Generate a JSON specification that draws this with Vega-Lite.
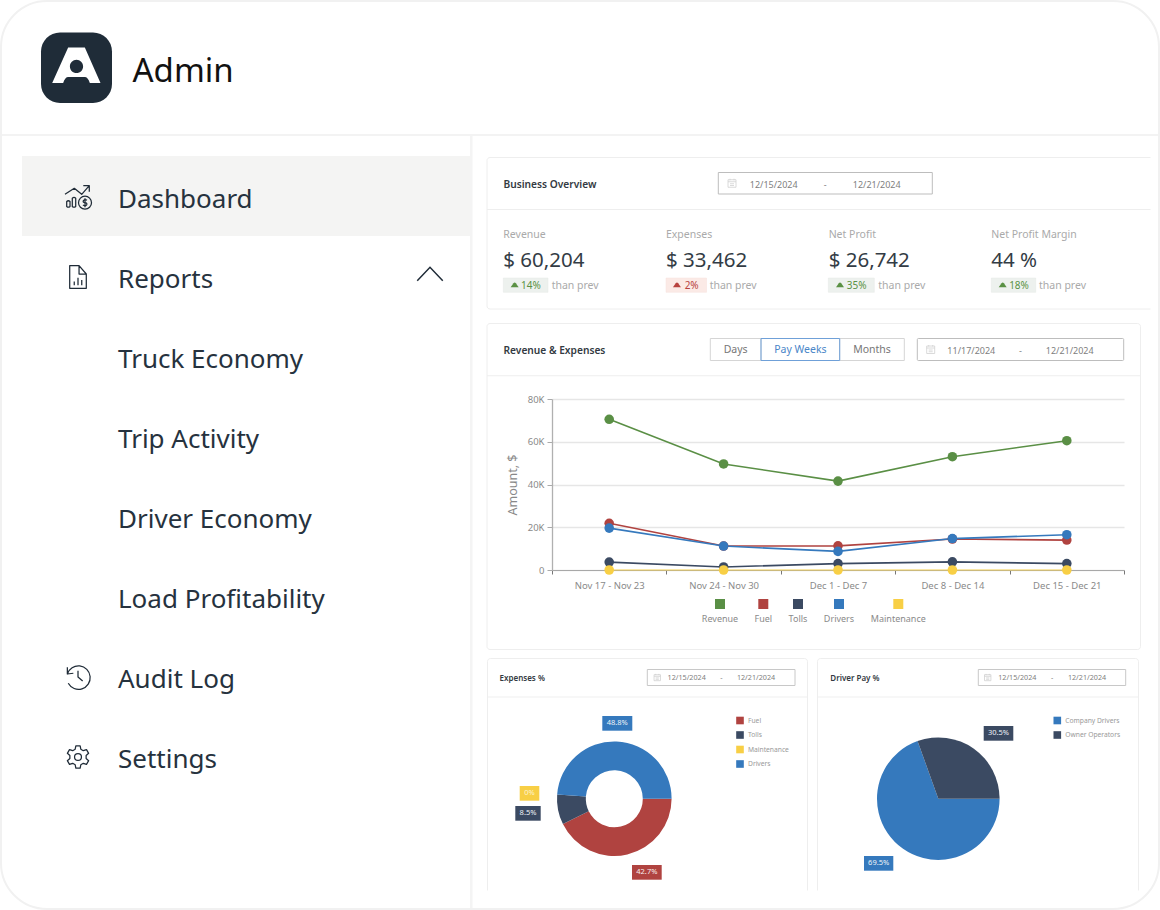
{
"$schema":"https://vega.github.io/schema/vega-lite/v6.json",
"width":1160,"height":910,"padding":0,"autosize":{"type":"none"},"background":"#ffffff",
"config":{"font":"Noto Sans","view":{"stroke":null},"scale":{"pointPadding":0,"bandPaddingInner":0,"bandPaddingOuter":0}},
"resolve":{"scale":{"x":"independent","y":"independent","theta":"independent","color":"independent","shape":"independent"}},
"datasets":{
"menu":[{"item":"Dashboard"},{"item":"Reports"},{"item":"Truck Economy"},{"item":"Trip Activity"},{"item":"Driver Economy"},{"item":"Load Profitability"},{"item":"Audit Log"},{"item":"Settings"}],
"kpi":[{"metric":"Revenue","amount":"$ 60,204"},{"metric":"Expenses","amount":"$ 33,462"},{"metric":"Net Profit","amount":"$ 26,742"},{"metric":"Net Profit Margin","amount":"44 %"}],
"amounts":[
{"period":"Nov 17 - Nov 23","series":"Revenue","amount":70500},{"period":"Nov 24 - Nov 30","series":"Revenue","amount":49600},{"period":"Dec 1 - Dec 7","series":"Revenue","amount":41600},{"period":"Dec 8 - Dec 14","series":"Revenue","amount":53000},{"period":"Dec 15 - Dec 21","series":"Revenue","amount":60500},
{"period":"Nov 17 - Nov 23","series":"Fuel","amount":21850},{"period":"Nov 24 - Nov 30","series":"Fuel","amount":11200},{"period":"Dec 1 - Dec 7","series":"Fuel","amount":11300},{"period":"Dec 8 - Dec 14","series":"Fuel","amount":14500},{"period":"Dec 15 - Dec 21","series":"Fuel","amount":14000},
{"period":"Nov 17 - Nov 23","series":"Tolls","amount":3700},{"period":"Nov 24 - Nov 30","series":"Tolls","amount":1400},{"period":"Dec 1 - Dec 7","series":"Tolls","amount":3000},{"period":"Dec 8 - Dec 14","series":"Tolls","amount":3800},{"period":"Dec 15 - Dec 21","series":"Tolls","amount":3000},
{"period":"Nov 17 - Nov 23","series":"Drivers","amount":19600},{"period":"Nov 24 - Nov 30","series":"Drivers","amount":11200},{"period":"Dec 1 - Dec 7","series":"Drivers","amount":8700},{"period":"Dec 8 - Dec 14","series":"Drivers","amount":14700},{"period":"Dec 15 - Dec 21","series":"Drivers","amount":16500},
{"period":"Nov 17 - Nov 23","series":"Maintenance","amount":0},{"period":"Nov 24 - Nov 30","series":"Maintenance","amount":0},{"period":"Dec 1 - Dec 7","series":"Maintenance","amount":0},{"period":"Dec 8 - Dec 14","series":"Maintenance","amount":0},{"period":"Dec 15 - Dec 21","series":"Maintenance","amount":0}
],
"expenses":[{"chart":"Expenses %","name":"Fuel","share":42.7,"seq":1},{"chart":"Expenses %","name":"Tolls","share":8.5,"seq":2},{"chart":"Expenses %","name":"Maintenance","share":0,"seq":3},{"chart":"Expenses %","name":"Drivers","share":48.8,"seq":4}],
"driverPay":[{"chart":"Driver Pay %","name":"Company Drivers","share":69.5,"seq":1},{"chart":"Driver Pay %","name":"Owner Operators","share":30.5,"seq":2}]
},
"layer":[
{"data":{"values":[{"part":"header rule"}]},"mark":{"type":"rect","fill":"#f3f3f3"},"encoding":{"x":{"field":"part","type":"nominal","axis":null,"scale":{"type":"band","range":[1,1159]}},"y":{"field":"part","type":"nominal","axis":null,"scale":{"type":"band","range":[134,136]}}}},
{"data":{"values":[{"part":"sidebar rule"}]},"mark":{"type":"rect","fill":"#f4f4f4"},"encoding":{"x":{"field":"part","type":"nominal","axis":null,"scale":{"type":"band","range":[470,472.5]}},"y":{"field":"part","type":"nominal","axis":null,"scale":{"type":"band","range":[136,908]}}}},
{"data":{"values":[{"name":"Logo"}]},"encoding":{"x":{"field":"name","type":"nominal","axis":null,"scale":{"type":"band","range":[41,112]}},"y":{"field":"name","type":"nominal","axis":null,"scale":{"type":"band","range":[32.5,103]}}},"layer":[
 {"mark":{"type":"rect","fill":"#1f2c38","cornerRadius":19}},
 {"mark":{"type":"point","filled":true,"fill":"#ffffff","stroke":null,"opacity":1,"size":900,"yOffset":-1.3,"shape":"M-.556,-1.267 L.556,-1.267 L1.6,1.11 L.89,1.11 Q.75,.711 .556,.711 L-.556,.711 Q-.75,.711 -.89,1.11 L-1.62,1.11 Z M.44,0 A.44,.44 0 1 0 -.44,0 A.44,.44 0 1 0 .44,0 Z"}}
]},
{"data":{"values":[{"name":"Admin"}]},"mark":{"type":"text","align":"left","baseline":"middle","fontSize":33,"color":"#111111"},"encoding":{"text":{"field":"name"},"x":{"field":"name","type":"nominal","axis":null,"scale":{"type":"point","range":[132.5,132.5]}},"y":{"field":"name","type":"nominal","axis":null,"scale":{"type":"point","range":[71.5,71.5]}}}},
{"data":{"values":[{"item":"Dashboard"}]},"mark":{"type":"rect","fill":"#f4f4f3"},"encoding":{"x":{"field":"item","type":"nominal","axis":null,"scale":{"type":"band","range":[22,470]}},"y":{"field":"item","type":"nominal","axis":null,"scale":{"type":"band","range":[156,236]}}}},
{"data":{"name":"menu"},"mark":{"type":"text","align":"left","baseline":"middle","fontSize":26,"color":"#26323e"},"encoding":{"text":{"field":"item"},"x":{"field":"item","type":"nominal","axis":null,"sort":null,"scale":{"type":"point","range":[118,118]}},"y":{"field":"item","type":"nominal","axis":null,"sort":null,"scale":{"type":"point","range":[199.7,759.7]}}}},
{"data":{"name":"menu"},"transform":[{"filter":"indexof(['Dashboard','Reports','Audit Log','Settings'],datum.item)>=0"}],"mark":{"type":"point","filled":false,"stroke":"#1f2b37","strokeWidth":1.25,"opacity":1,"size":900,"strokeJoin":"round"},"encoding":{
 "x":{"field":"item","type":"nominal","axis":null,"sort":null,"scale":{"type":"point","range":[78,78]}},
 "y":{"field":"item","type":"nominal","axis":null,"scale":{"type":"point","domain":["Dashboard","Reports","Truck Economy","Trip Activity","Driver Economy","Load Profitability","Audit Log","Settings"],"range":[197,757]}},
 "shape":{"field":"item","type":"nominal","legend":null,"scale":{"domain":["Dashboard","Reports","Audit Log","Settings"],"range":[
  "M-.867,-.18 L-.247,-.58 L.247,-.18 L.753,-.753 M.353,-.753 L.753,-.753 L.753,-.353 M-.753,.3 Q-.643,.2 -.533,.3 L-.533,.63 Q-.643,.73 -.753,.63 Z M-.38,.08 Q-.265,-.02 -.153,.08 L-.153,.63 Q-.265,.73 -.38,.63 Z M.9,.38 A.433,.433 0 1 1 .034,.38 A.433,.433 0 1 1 .9,.38 Z M.6,.22 Q.467,.12 .36,.24 Q.3,.36 .467,.38 Q.63,.4 .58,.52 Q.47,.64 .33,.54 M.467,.08 L.467,.68",
  "M-.553,-.753 L.07,-.753 L.553,-.2 L.553,.753 L-.553,.753 Z M.07,-.753 L.07,-.2 L.553,-.2 M-.25,.55 L-.25,.3 M0,.55 L0,.05 M.25,.55 L.25,.2",
  "M-.71,-.65 L-.71,-.2 L-.31,-.25 M-.71,-.2 A.78,.78 0 1 1 -.65,.42 M0,-.42 L0,0 L.31,.27",
  "M-.143,-.736 L.143,-.736 L.188,-.517 L.354,-.421 L.566,-.492 L.709,-.244 L.542,-.096 L.542,.096 L.709,.244 L.566,.492 L.354,.421 L.188,.517 L.143,.736 L-.143,.736 L-.188,.517 L-.354,.421 L-.566,.492 L-.709,.244 L-.542,.096 L-.542,-.096 L-.709,-.244 L-.566,-.492 L-.354,-.421 L-.188,-.517 Z M.23,0 A.23,.23 0 1 1 -.23,0 A.23,.23 0 1 1 .23,0 Z"
 ]}}}},
{"data":{"values":[{"item":"Reports"}]},"mark":{"type":"point","filled":false,"stroke":"#1f2b37","strokeWidth":1.5,"opacity":1,"size":900,"shape":"M-.85,.45 L0,-.45 L.85,.45"},"encoding":{"x":{"field":"item","type":"nominal","axis":null,"scale":{"type":"point","range":[430,430]}},"y":{"field":"item","type":"nominal","axis":null,"scale":{"type":"point","range":[274,274]}}}},

{"data":{"values":[{"panel":"Business Overview"}]},"mark":{"type":"rect","filled":false,"stroke":"#eeeeee","cornerRadius":3},"encoding":{"x":{"field":"panel","type":"nominal","axis":null,"scale":{"type":"band","range":[487,1158]}},"y":{"field":"panel","type":"nominal","axis":null,"scale":{"type":"band","range":[157.5,309]}}}},
{"data":{"values":[{"panel":"Business Overview"}]},"mark":{"type":"rect","fill":"#ffffff"},"encoding":{"x":{"field":"panel","type":"nominal","axis":null,"scale":{"type":"band","range":[1150.5,1158]}},"y":{"field":"panel","type":"nominal","axis":null,"scale":{"type":"band","range":[150,315]}}}},
{"data":{"values":[{"panel":"Business Overview"}]},"mark":{"type":"rect","fill":"#eeeeee"},"encoding":{"x":{"field":"panel","type":"nominal","axis":null,"scale":{"type":"band","range":[487,1150.5]}},"y":{"field":"panel","type":"nominal","axis":null,"scale":{"type":"band","range":[209,210]}}}},
{"data":{"values":[{"panel":"Revenue & Expenses"}]},"mark":{"type":"rect","filled":false,"stroke":"#eeeeee","cornerRadius":3},"encoding":{"x":{"field":"panel","type":"nominal","axis":null,"scale":{"type":"band","range":[487,1140.5]}},"y":{"field":"panel","type":"nominal","axis":null,"scale":{"type":"band","range":[323.5,649.5]}}}},
{"data":{"values":[{"panel":"Revenue & Expenses"}]},"mark":{"type":"rect","fill":"#eeeeee"},"encoding":{"x":{"field":"panel","type":"nominal","axis":null,"scale":{"type":"band","range":[487,1140.5]}},"y":{"field":"panel","type":"nominal","axis":null,"scale":{"type":"band","range":[375.2,376.2]}}}},
{"data":{"values":[{"panel":"Expenses %"}]},"mark":{"type":"rect","filled":false,"stroke":"#eeeeee","cornerRadius":3},"encoding":{"x":{"field":"panel","type":"nominal","axis":null,"scale":{"type":"band","range":[487.5,807.5]}},"y":{"field":"panel","type":"nominal","axis":null,"scale":{"type":"band","range":[658.5,900]}}}},
{"data":{"values":[{"panel":"Expenses %"}]},"mark":{"type":"rect","fill":"#f0f0f0"},"encoding":{"x":{"field":"panel","type":"nominal","axis":null,"scale":{"type":"band","range":[487.5,807.5]}},"y":{"field":"panel","type":"nominal","axis":null,"scale":{"type":"band","range":[696.5,697.5]}}}},
{"data":{"values":[{"panel":"Driver Pay %"}]},"mark":{"type":"rect","filled":false,"stroke":"#eeeeee","cornerRadius":3},"encoding":{"x":{"field":"panel","type":"nominal","axis":null,"scale":{"type":"band","range":[817.5,1138.5]}},"y":{"field":"panel","type":"nominal","axis":null,"scale":{"type":"band","range":[658.5,900]}}}},
{"data":{"values":[{"panel":"Driver Pay %"}]},"mark":{"type":"rect","fill":"#f0f0f0"},"encoding":{"x":{"field":"panel","type":"nominal","axis":null,"scale":{"type":"band","range":[817.5,1138.5]}},"y":{"field":"panel","type":"nominal","axis":null,"scale":{"type":"band","range":[696.5,697.5]}}}},
{"data":{"values":[{"panel":"bottom edge"}]},"mark":{"type":"rect","fill":"#ffffff"},"encoding":{"x":{"field":"panel","type":"nominal","axis":null,"scale":{"type":"band","range":[480,1150]}},"y":{"field":"panel","type":"nominal","axis":null,"scale":{"type":"band","range":[890.5,906]}}}},

{"data":{"values":[{"title":"Business Overview"},{"title":"Revenue & Expenses"}]},"mark":{"type":"text","align":"left","baseline":"middle","fontSize":10.2,"fontWeight":600,"color":"#333a42"},"encoding":{"text":{"field":"title"},"x":{"field":"title","type":"nominal","axis":null,"scale":{"type":"point","range":[503.5,503.5]}},"y":{"field":"title","type":"nominal","axis":null,"scale":{"type":"point","domain":["Business Overview","Revenue & Expenses"],"range":[184.6,350.6]}}}},
{"data":{"values":[{"title":"Expenses %"},{"title":"Driver Pay %"}]},"mark":{"type":"text","align":"left","baseline":"middle","fontSize":8,"fontWeight":600,"color":"#333a42"},"encoding":{"text":{"field":"title"},"x":{"field":"title","type":"nominal","axis":null,"scale":{"type":"point","domain":["Expenses %","Driver Pay %"],"range":[499.5,830.3]}},"y":{"field":"title","type":"nominal","axis":null,"scale":{"type":"point","range":[678.6,678.6]}}}},

{"data":{"values":[{"picker":"Business Overview"}]},"encoding":{"x":{"field":"picker","type":"nominal","axis":null,"scale":{"type":"band","range":[718.3,932.3]}},"y":{"field":"picker","type":"nominal","axis":null,"scale":{"type":"band","range":[172.5,194]}}},"layer":[
 {"mark":{"type":"rect","filled":false,"stroke":"#bdbdbd"}},
 {"mark":{"type":"point","filled":false,"stroke":"#d0d0d0","opacity":1,"strokeWidth":0.8,"size":100,"xOffset":-93.3,"shape":"M-.8,-.7 L.8,-.7 L.8,.8 L-.8,.8 Z M-.8,-.3 L.8,-.3 M-.4,-.9 L-.4,-.6 M.4,-.9 L.4,-.6 M-.4,.1 L.4,.1 M-.4,.45 L.4,.45"}}
]},
{"data":{"values":[{"part":"from","label":"12/15/2024"},{"part":"sep","label":"-"},{"part":"to","label":"12/21/2024"}]},"mark":{"type":"text","baseline":"middle","fontSize":9,"color":"#808080"},"encoding":{"text":{"field":"label"},"x":{"field":"part","type":"nominal","axis":null,"scale":{"type":"point","domain":["from","sep","to"],"range":[773.7,876.7]}},"y":{"field":"label","type":"nominal","axis":null,"scale":{"type":"point","range":[184.5,184.5]}}}},
{"data":{"values":[{"picker":"Revenue & Expenses"}]},"encoding":{"x":{"field":"picker","type":"nominal","axis":null,"scale":{"type":"band","range":[917.3,1123.7]}},"y":{"field":"picker","type":"nominal","axis":null,"scale":{"type":"band","range":[338.5,360.5]}}},"layer":[
 {"mark":{"type":"rect","filled":false,"stroke":"#bdbdbd","cornerRadius":1}},
 {"mark":{"type":"point","filled":false,"stroke":"#d0d0d0","opacity":1,"strokeWidth":0.8,"size":100,"xOffset":-89.8,"shape":"M-.8,-.7 L.8,-.7 L.8,.8 L-.8,.8 Z M-.8,-.3 L.8,-.3 M-.4,-.9 L-.4,-.6 M.4,-.9 L.4,-.6 M-.4,.1 L.4,.1 M-.4,.45 L.4,.45"}}
]},
{"data":{"values":[{"part":"from","label":"11/17/2024"},{"part":"sep","label":"-"},{"part":"to","label":"12/21/2024"}]},"mark":{"type":"text","baseline":"middle","fontSize":9,"color":"#808080"},"encoding":{"text":{"field":"label"},"x":{"field":"part","type":"nominal","axis":null,"scale":{"type":"point","domain":["from","sep","to"],"range":[971.3,1069.7]}},"y":{"field":"label","type":"nominal","axis":null,"scale":{"type":"point","range":[350.5,350.5]}}}},
{"data":{"values":[{"picker":"Expenses %"}]},"encoding":{"x":{"field":"picker","type":"nominal","axis":null,"scale":{"type":"band","range":[647.3,795]}},"y":{"field":"picker","type":"nominal","axis":null,"scale":{"type":"band","range":[669.5,685.5]}}},"layer":[
 {"mark":{"type":"rect","filled":false,"stroke":"#c8c8c8"}},
 {"mark":{"type":"point","filled":false,"stroke":"#d0d0d0","opacity":1,"strokeWidth":0.8,"size":64,"xOffset":-63.9,"shape":"M-.8,-.7 L.8,-.7 L.8,.8 L-.8,.8 Z M-.8,-.3 L.8,-.3 M-.4,-.9 L-.4,-.6 M.4,-.9 L.4,-.6 M-.4,.1 L.4,.1 M-.4,.45 L.4,.45"}}
]},
{"data":{"values":[{"part":"from","label":"12/15/2024"},{"part":"sep","label":"-"},{"part":"to","label":"12/21/2024"}]},"mark":{"type":"text","baseline":"middle","fontSize":7.2,"color":"#808080"},"encoding":{"text":{"field":"label"},"x":{"field":"part","type":"nominal","axis":null,"scale":{"type":"point","domain":["from","sep","to"],"range":[686.7,756]}},"y":{"field":"label","type":"nominal","axis":null,"scale":{"type":"point","range":[678.4,678.4]}}}},
{"data":{"values":[{"picker":"Driver Pay %"}]},"encoding":{"x":{"field":"picker","type":"nominal","axis":null,"scale":{"type":"band","range":[978.3,1125.7]}},"y":{"field":"picker","type":"nominal","axis":null,"scale":{"type":"band","range":[669.5,685.5]}}},"layer":[
 {"mark":{"type":"rect","filled":false,"stroke":"#c8c8c8"}},
 {"mark":{"type":"point","filled":false,"stroke":"#d0d0d0","opacity":1,"strokeWidth":0.8,"size":64,"xOffset":-64.3,"shape":"M-.8,-.7 L.8,-.7 L.8,.8 L-.8,.8 Z M-.8,-.3 L.8,-.3 M-.4,-.9 L-.4,-.6 M.4,-.9 L.4,-.6 M-.4,.1 L.4,.1 M-.4,.45 L.4,.45"}}
]},
{"data":{"values":[{"part":"from","label":"12/15/2024"},{"part":"sep","label":"-"},{"part":"to","label":"12/21/2024"}]},"mark":{"type":"text","baseline":"middle","fontSize":7.2,"color":"#808080"},"encoding":{"text":{"field":"label"},"x":{"field":"part","type":"nominal","axis":null,"scale":{"type":"point","domain":["from","sep","to"],"range":[1017.3,1087]}},"y":{"field":"label","type":"nominal","axis":null,"scale":{"type":"point","range":[678.4,678.4]}}}},

{"data":{"name":"kpi"},"encoding":{"x":{"field":"metric","type":"nominal","axis":null,"scale":{"type":"point","domain":["Revenue","Expenses","Net Profit","Net Profit Margin"],"range":[503.3,991.3]}},"y":{"datum":"label","type":"nominal","axis":null,"scale":{"type":"point","domain":["label","amount"],"range":[234.8,260.5]}}},"layer":[
 {"mark":{"type":"text","align":"left","baseline":"middle","fontSize":10.5,"color":"#aaaaaa"},"encoding":{"text":{"field":"metric"}}},
 {"mark":{"type":"text","align":"left","baseline":"middle","fontSize":20.5,"color":"#333c45"},"encoding":{"text":{"field":"amount"},"y":{"datum":"amount","type":"nominal","axis":null}}}
]},
{"data":{"values":[{"metric":"Revenue","change":"14%"}]},"encoding":{"x":{"field":"metric","type":"nominal","axis":null,"scale":{"type":"band","range":[503.3,548]}},"y":{"field":"metric","type":"nominal","axis":null,"scale":{"type":"band","range":[278,292.3]}}},"layer":[
 {"mark":{"type":"rect","fill":"#edf1ee","stroke":"#e4e9e5","strokeWidth":0.5}},
 {"mark":{"type":"point","filled":true,"fill":"#5a9144","stroke":null,"opacity":1,"size":64,"xOffset":-11,"shape":"M-1,.5 L-.3,-.5 Q0,-.8 .3,-.5 L1,.5 Z"}},
 {"mark":{"type":"text","baseline":"middle","fontSize":10,"color":"#5a9144","dx":5.3,"dy":0.7},"encoding":{"text":{"field":"change"}}},
 {"mark":{"type":"text","align":"left","baseline":"middle","fontSize":10.5,"color":"#aaaaaa","dx":26,"dy":0.7},"encoding":{"text":{"value":"than prev"}}}
]},
{"data":{"values":[{"metric":"Expenses","change":"2%"}]},"encoding":{"x":{"field":"metric","type":"nominal","axis":null,"scale":{"type":"band","range":[666,706.5]}},"y":{"field":"metric","type":"nominal","axis":null,"scale":{"type":"band","range":[278,292.3]}}},"layer":[
 {"mark":{"type":"rect","fill":"#fbeae6","stroke":"#f6e1dc","strokeWidth":0.5}},
 {"mark":{"type":"point","filled":true,"fill":"#b8433f","stroke":null,"opacity":1,"size":64,"xOffset":-9.3,"shape":"M-1,.5 L-.3,-.5 Q0,-.8 .3,-.5 L1,.5 Z"}},
 {"mark":{"type":"text","baseline":"middle","fontSize":10,"color":"#b8433f","dx":5.4,"dy":0.7},"encoding":{"text":{"field":"change"}}},
 {"mark":{"type":"text","align":"left","baseline":"middle","fontSize":10.5,"color":"#aaaaaa","dx":23.4,"dy":0.7},"encoding":{"text":{"value":"than prev"}}}
]},
{"data":{"values":[{"metric":"Net Profit","change":"35%"}]},"encoding":{"x":{"field":"metric","type":"nominal","axis":null,"scale":{"type":"band","range":[828.3,874.3]}},"y":{"field":"metric","type":"nominal","axis":null,"scale":{"type":"band","range":[278,292.3]}}},"layer":[
 {"mark":{"type":"rect","fill":"#edf1ee","stroke":"#e4e9e5","strokeWidth":0.5}},
 {"mark":{"type":"point","filled":true,"fill":"#5a9144","stroke":null,"opacity":1,"size":64,"xOffset":-11.3,"shape":"M-1,.5 L-.3,-.5 Q0,-.8 .3,-.5 L1,.5 Z"}},
 {"mark":{"type":"text","baseline":"middle","fontSize":10,"color":"#5a9144","dx":5.4,"dy":0.7},"encoding":{"text":{"field":"change"}}},
 {"mark":{"type":"text","align":"left","baseline":"middle","fontSize":10.5,"color":"#aaaaaa","dx":27,"dy":0.7},"encoding":{"text":{"value":"than prev"}}}
]},
{"data":{"values":[{"metric":"Net Profit Margin","change":"18%"}]},"encoding":{"x":{"field":"metric","type":"nominal","axis":null,"scale":{"type":"band","range":[991.3,1035.7]}},"y":{"field":"metric","type":"nominal","axis":null,"scale":{"type":"band","range":[278,292.3]}}},"layer":[
 {"mark":{"type":"rect","fill":"#edf1ee","stroke":"#e4e9e5","strokeWidth":0.5}},
 {"mark":{"type":"point","filled":true,"fill":"#5a9144","stroke":null,"opacity":1,"size":64,"xOffset":-10.8,"shape":"M-1,.5 L-.3,-.5 Q0,-.8 .3,-.5 L1,.5 Z"}},
 {"mark":{"type":"text","baseline":"middle","fontSize":10,"color":"#5a9144","dx":5.5,"dy":0.7},"encoding":{"text":{"field":"change"}}},
 {"mark":{"type":"text","align":"left","baseline":"middle","fontSize":10.5,"color":"#aaaaaa","dx":25.5,"dy":0.7},"encoding":{"text":{"value":"than prev"}}}
]},

{"data":{"values":[{"view":"Days"}]},"encoding":{"x":{"field":"view","type":"nominal","axis":null,"scale":{"type":"band","range":[710.3,761]}},"y":{"field":"view","type":"nominal","axis":null,"scale":{"type":"band","range":[338.5,360.5]}}},"layer":[
 {"mark":{"type":"rect","filled":false,"stroke":"#d5d5d5"}},
 {"mark":{"type":"text","baseline":"middle","fontSize":10.5,"color":"#777777","dy":0.6},"encoding":{"text":{"field":"view"}}}
]},
{"data":{"values":[{"view":"Months"}]},"encoding":{"x":{"field":"view","type":"nominal","axis":null,"scale":{"type":"band","range":[839.7,904.3]}},"y":{"field":"view","type":"nominal","axis":null,"scale":{"type":"band","range":[338.5,360.5]}}},"layer":[
 {"mark":{"type":"rect","filled":false,"stroke":"#d5d5d5"}},
 {"mark":{"type":"text","baseline":"middle","fontSize":10.5,"color":"#777777","dy":0.6},"encoding":{"text":{"field":"view"}}}
]},
{"data":{"values":[{"view":"Pay Weeks"}]},"encoding":{"x":{"field":"view","type":"nominal","axis":null,"scale":{"type":"band","range":[761,839.7]}},"y":{"field":"view","type":"nominal","axis":null,"scale":{"type":"band","range":[338.5,360.5]}}},"layer":[
 {"mark":{"type":"rect","filled":false,"stroke":"#6fa0d8"}},
 {"mark":{"type":"text","baseline":"middle","fontSize":10.5,"color":"#4a86c8","dy":0.6},"encoding":{"text":{"field":"view"}}}
]},

{"data":{"name":"amounts"},"encoding":{
 "x":{"field":"period","type":"nominal","sort":null,"title":null,"scale":{"type":"band","domain":["Nov 17 - Nov 23","Nov 24 - Nov 30","Dec 1 - Dec 7","Dec 8 - Dec 14","Dec 15 - Dec 21"],"range":[552,1124]},"axis":{"offset":-340,"labelAngle":0,"tickBand":"extent","tickSize":4,"tickColor":"#777777","domainColor":"#a8a8a8","domainWidth":1.2,"labelColor":"#8a8a8a","labelFontSize":9.5,"labelPadding":6,"grid":false}},
 "y":{"field":"amount","type":"quantitative","title":"Amount, $","scale":{"domain":[0,80000],"range":[570,399]},"axis":{"offset":-552,"values":[0,20000,40000,60000,80000],"labelExpr":"datum.value==0?'0':(datum.value/1000)+'K'","grid":true,"gridColor":"#e6e6e6","gridWidth":1.3,"tickSize":5,"tickColor":"#aaaaaa","domainColor":"#b0b0b0","domainWidth":1.3,"labelColor":"#8a8a8a","labelFontSize":9.5,"labelPadding":3,"titleColor":"#888888","titleFontSize":12.5,"titleFontWeight":"normal","titlePadding":8}},
 "color":{"field":"series","type":"nominal","legend":null,"scale":{"domain":["Revenue","Fuel","Tolls","Drivers","Maintenance"],"range":["#5a8f45","#b04340","#3b4a62","#3579bd","#f8cf45"]}}
},"layer":[
 {"mark":{"type":"line","strokeWidth":1.6},"encoding":{"opacity":{"condition":{"test":"datum.series=='Maintenance'","value":0.6},"value":1}}},
 {"mark":{"type":"point","filled":true,"opacity":1,"size":92}}
]},
{"data":{"values":[{"series":"Revenue"},{"series":"Fuel"}]},"encoding":{"x":{"field":"series","type":"nominal","axis":null,"scale":{"type":"point","domain":["Revenue","Fuel"],"range":[720,763.3]}},"y":{"datum":"key","type":"nominal","axis":null,"scale":{"type":"point","domain":["key","label"],"range":[604,619.3]}}},"layer":[
 {"mark":{"type":"point","shape":"square","filled":true,"opacity":1,"size":100},"encoding":{"color":{"field":"series","type":"nominal","legend":null,"scale":{"domain":["Revenue","Fuel"],"range":["#5a8f45","#b04340"]}}}},
 {"mark":{"type":"text","baseline":"middle","fontSize":9,"color":"#8a8a8a"},"encoding":{"text":{"field":"series"},"y":{"datum":"label","type":"nominal","axis":null}}}
]},
{"data":{"values":[{"series":"Tolls"},{"series":"Drivers"}]},"encoding":{"x":{"field":"series","type":"nominal","axis":null,"scale":{"type":"point","domain":["Tolls","Drivers"],"range":[798,839]}},"y":{"datum":"key","type":"nominal","axis":null,"scale":{"type":"point","domain":["key","label"],"range":[604,619.3]}}},"layer":[
 {"mark":{"type":"point","shape":"square","filled":true,"opacity":1,"size":100},"encoding":{"color":{"field":"series","type":"nominal","legend":null,"scale":{"domain":["Tolls","Drivers"],"range":["#3b4a62","#3579bd"]}}}},
 {"mark":{"type":"text","baseline":"middle","fontSize":9,"color":"#8a8a8a"},"encoding":{"text":{"field":"series"},"y":{"datum":"label","type":"nominal","axis":null}}}
]},
{"data":{"values":[{"series":"Maintenance"}]},"encoding":{"x":{"field":"series","type":"nominal","axis":null,"scale":{"type":"point","range":[898.3,898.3]}},"y":{"datum":"key","type":"nominal","axis":null,"scale":{"type":"point","domain":["key","label"],"range":[604,619.3]}}},"layer":[
 {"mark":{"type":"point","shape":"square","filled":true,"fill":"#f8cf45","stroke":null,"opacity":1,"size":100}},
 {"mark":{"type":"text","baseline":"middle","fontSize":9,"color":"#8a8a8a"},"encoding":{"text":{"field":"series"},"y":{"datum":"label","type":"nominal","axis":null}}}
]},

{"data":{"name":"expenses"},"mark":{"type":"arc","innerRadius":28.5,"outerRadius":57.3},"encoding":{
 "x":{"field":"chart","type":"nominal","axis":null,"scale":{"type":"point","range":[614.3,614.3]}},
 "y":{"field":"chart","type":"nominal","axis":null,"scale":{"type":"point","range":[798.7,798.7]}},
 "theta":{"field":"share","type":"quantitative","stack":true,"scale":{"range":[1.5708,7.854]}},
 "order":{"field":"seq"},
 "color":{"field":"name","type":"nominal","scale":{"domain":["Fuel","Tolls","Maintenance","Drivers"],"range":["#b04340","#3b4a62","#f8cf45","#3579bd"]},"legend":{"orient":"none","legendX":736,"legendY":716.5,"title":null,"symbolType":"square","symbolSize":58,"symbolOpacity":1,"symbolStrokeWidth":0,"labelFontSize":6.7,"labelColor":"#999999","labelOffset":4,"rowPadding":6.5}}
}},
{"data":{"name":"driverPay"},"mark":{"type":"arc","outerRadius":61.3},"encoding":{
 "x":{"field":"chart","type":"nominal","axis":null,"scale":{"type":"point","range":[938.3,938.3]}},
 "y":{"field":"chart","type":"nominal","axis":null,"scale":{"type":"point","range":[798.7,798.7]}},
 "theta":{"field":"share","type":"quantitative","stack":true,"scale":{"range":[1.5708,7.854]}},
 "order":{"field":"seq"},
 "color":{"field":"name","type":"nominal","scale":{"domain":["Company Drivers","Owner Operators"],"range":["#3579bd","#3b4a62"]},"legend":{"orient":"none","legendX":1053.3,"legendY":716.5,"title":null,"symbolType":"square","symbolSize":58,"symbolOpacity":1,"symbolStrokeWidth":0,"labelFontSize":6.7,"labelColor":"#999999","labelOffset":4,"rowPadding":6.5}}
}},
{"data":{"values":[{"tag":"48.8%"}]},"encoding":{"x":{"field":"tag","type":"nominal","axis":null,"scale":{"type":"band","range":[602.3,632.3]}},"y":{"field":"tag","type":"nominal","axis":null,"scale":{"type":"band","range":[716,730.7]}}},"layer":[{"mark":{"type":"rect","fill":"#3579bd"}},{"mark":{"type":"text","baseline":"middle","fontSize":7.5,"color":"#eef3f8"},"encoding":{"text":{"field":"tag"}}}]},
{"data":{"values":[{"tag":"0%"}]},"encoding":{"x":{"field":"tag","type":"nominal","axis":null,"scale":{"type":"band","range":[519.7,539.3]}},"y":{"field":"tag","type":"nominal","axis":null,"scale":{"type":"band","range":[786,800.7]}}},"layer":[{"mark":{"type":"rect","fill":"#f8cf45"}},{"mark":{"type":"text","baseline":"middle","fontSize":7.5,"color":"#fdf4d0"},"encoding":{"text":{"field":"tag"}}}]},
{"data":{"values":[{"tag":"8.5%"}]},"encoding":{"x":{"field":"tag","type":"nominal","axis":null,"scale":{"type":"band","range":[515.3,540.7]}},"y":{"field":"tag","type":"nominal","axis":null,"scale":{"type":"band","range":[806,820.7]}}},"layer":[{"mark":{"type":"rect","fill":"#3b4a62"}},{"mark":{"type":"text","baseline":"middle","fontSize":7.5,"color":"#eef3f8"},"encoding":{"text":{"field":"tag"}}}]},
{"data":{"values":[{"tag":"42.7%"}]},"encoding":{"x":{"field":"tag","type":"nominal","axis":null,"scale":{"type":"band","range":[632,661.7]}},"y":{"field":"tag","type":"nominal","axis":null,"scale":{"type":"band","range":[865,879.7]}}},"layer":[{"mark":{"type":"rect","fill":"#b04340"}},{"mark":{"type":"text","baseline":"middle","fontSize":7.5,"color":"#f8eeee"},"encoding":{"text":{"field":"tag"}}}]},
{"data":{"values":[{"tag":"30.5%"}]},"encoding":{"x":{"field":"tag","type":"nominal","axis":null,"scale":{"type":"band","range":[983.7,1013.3]}},"y":{"field":"tag","type":"nominal","axis":null,"scale":{"type":"band","range":[726,740.7]}}},"layer":[{"mark":{"type":"rect","fill":"#3b4a62"}},{"mark":{"type":"text","baseline":"middle","fontSize":7.5,"color":"#eef3f8"},"encoding":{"text":{"field":"tag"}}}]},
{"data":{"values":[{"tag":"69.5%"}]},"encoding":{"x":{"field":"tag","type":"nominal","axis":null,"scale":{"type":"band","range":[864,893.3]}},"y":{"field":"tag","type":"nominal","axis":null,"scale":{"type":"band","range":[856,870.7]}}},"layer":[{"mark":{"type":"rect","fill":"#3579bd"}},{"mark":{"type":"text","baseline":"middle","fontSize":7.5,"color":"#eef3f8"},"encoding":{"text":{"field":"tag"}}}]},

{"data":{"values":[{"part":"card"}]},"mark":{"type":"rect","filled":false,"stroke":"#f1f1f1","strokeWidth":2,"cornerRadius":46},"encoding":{"x":{"field":"part","type":"nominal","axis":null,"scale":{"type":"band","range":[1,1159]}},"y":{"field":"part","type":"nominal","axis":null,"scale":{"type":"band","range":[1,909]}}}}
]
}
